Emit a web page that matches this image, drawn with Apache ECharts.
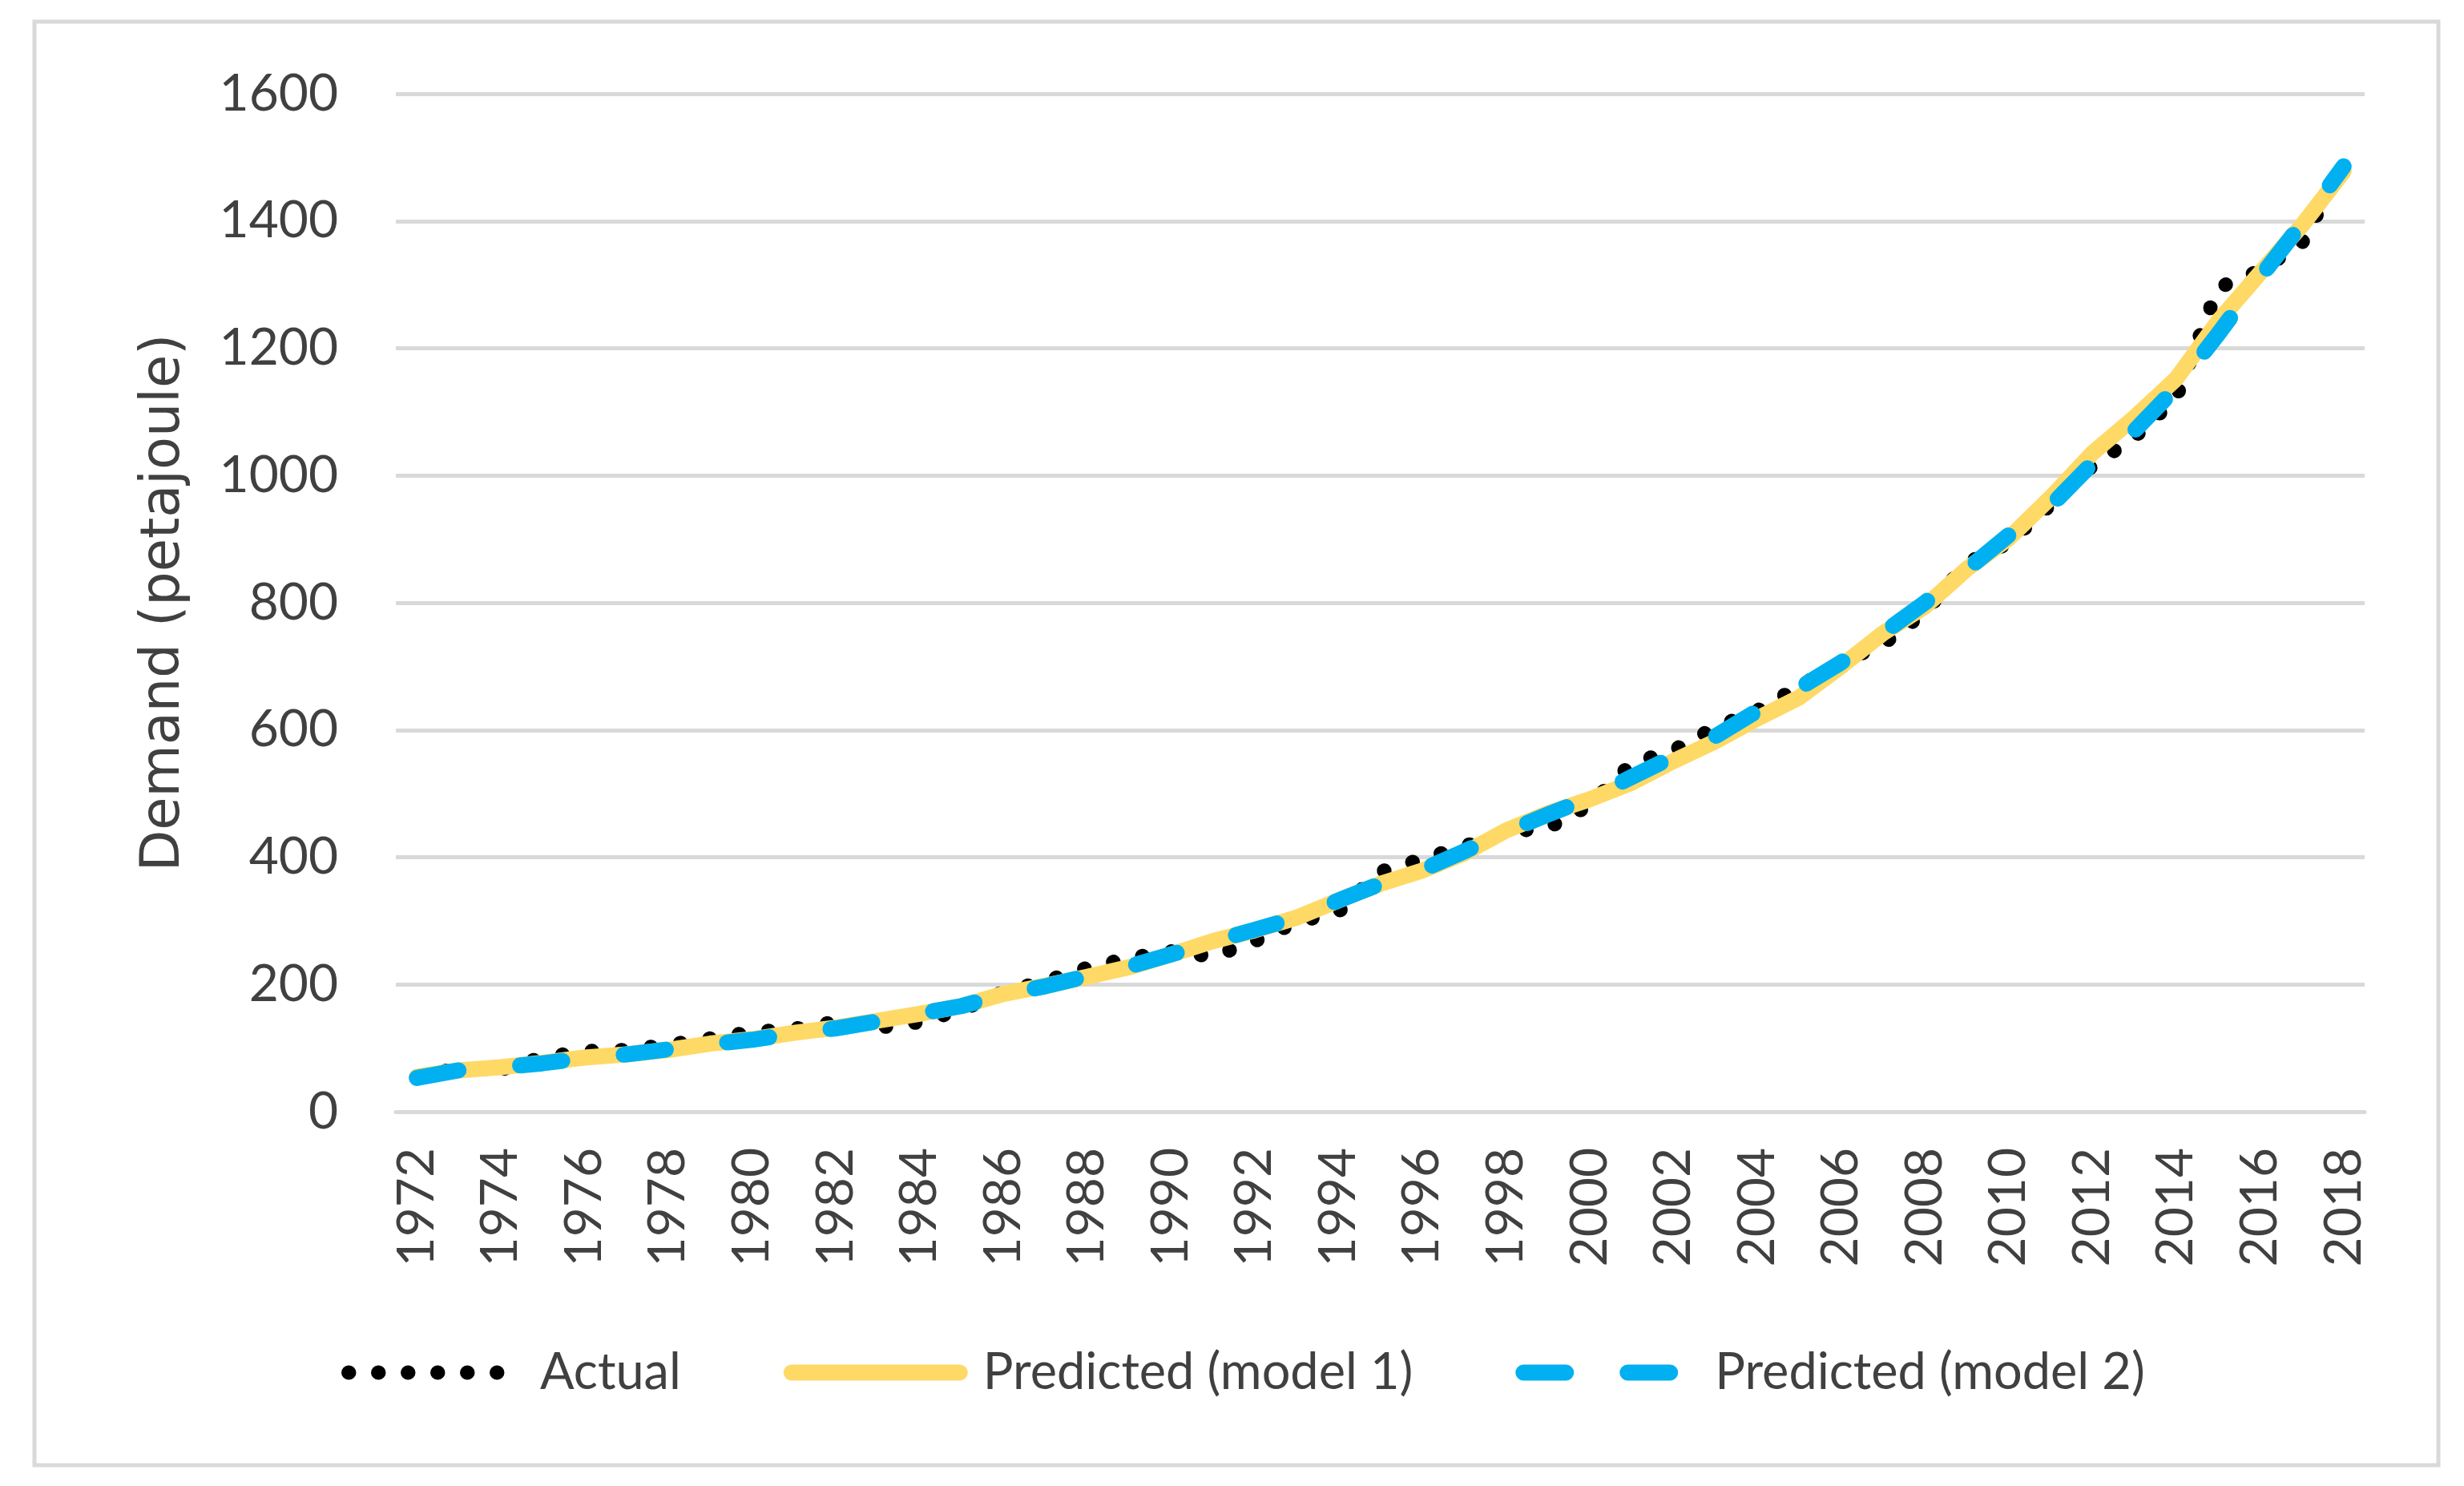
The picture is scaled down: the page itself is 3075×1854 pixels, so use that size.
<!DOCTYPE html>
<html>
<head>
<meta charset="utf-8">
<script src="https://cdn.jsdelivr.net/npm/echarts@6/dist/echarts.min.js"></script>
<style>
html,body{margin:0;padding:0;background:#fff;}
#chart{width:3075px;height:1854px;}
</style>
</head>
<body>
<div id="chart"></div>
<script>
var years = [];
for (var y = 1972; y <= 2018; y++) years.push(String(y));

var actual = [55, 68, 66, 85, 95, 97, 105, 115, 125, 130,
  141, 132, 141, 160, 188, 205, 226, 241, 252, 244,
  268, 298, 314, 377, 397, 417, 440, 446, 482, 547,
  568, 604, 630, 668, 706, 735, 785, 862, 894, 954,
  1015, 1060, 1122, 1295, 1322, 1365, 1490];

var model1 = [55, 65, 70, 77, 85, 90, 97, 107, 114, 124,
  132, 143, 154, 166, 185, 198, 212, 227, 247, 268,
  285, 305, 332, 358, 379, 406, 442, 469, 491, 517,
  551, 582, 618, 651, 700, 752, 794, 853, 901, 965,
  1035, 1091, 1152, 1242, 1318, 1393, 1478];

var model2 = [53, 65, 70, 76, 84, 90, 98, 106, 113, 123,
  131, 142, 154, 166, 184, 197, 213, 228, 247, 267,
  286, 305, 332, 358, 380, 409, 440, 467, 493, 526,
  558, 590, 630, 666, 706, 752, 800, 852, 906, 952,
  1019, 1070, 1138, 1222, 1311, 1396, 1486];

var seriesNames = ['Actual', 'Predicted (model 1)', 'Predicted (model 2)'];

var textColor = '#404040';
var gridColor = '#D9D9D9';

var chart = echarts.init(document.getElementById('chart'), null, {renderer: 'canvas'});
chart.setOption({
  animation: false,
  backgroundColor: '#fff',
  graphic: [{
    type: 'rect',
    shape: {x: 43, y: 27, width: 3000, height: 1801},
    style: {fill: 'none', stroke: gridColor, lineWidth: 5},
    silent: true
  }],
  grid: {left: 494, right: 124, top: 117, bottom: 467, containLabel: false},
  legend: {
    left: 421,
    top: 1676,
    itemWidth: 210,
    itemHeight: 20,
    itemGap: 128,
    itemStyle: {opacity: 0},
    lineStyle: {width: 'inherit', cap: 'round'},
    textStyle: {fontFamily: 'Lato', fontSize: 63, color: textColor, padding: [0, 0, 0, 24]},
    data: seriesNames
  },
  xAxis: {
    type: 'category',
    data: years,
    boundaryGap: true,
    axisLine: {show: true, lineStyle: {color: gridColor, width: 5}},
    axisTick: {show: false},
    axisLabel: {
      interval: 1,
      rotate: 90,
      margin: 45,
      fontFamily: 'Lato',
      fontSize: 64,
      color: textColor
    },
    splitLine: {show: false}
  },
  yAxis: {
    type: 'value',
    min: 0,
    max: 1600,
    interval: 200,
    name: 'Demand (petajoule)',
    nameLocation: 'middle',
    nameGap: 255,
    nameRotate: 90,
    nameTextStyle: {fontFamily: 'DejaVu Sans', fontSize: 67, color: textColor},
    axisLine: {show: false},
    axisTick: {show: false},
    axisLabel: {
      margin: 72, fontFamily: 'Lato', fontSize: 64, color: textColor,
      formatter: function (v) { return String(v); }
    },
    splitLine: {show: true, lineStyle: {color: gridColor, width: 5}}
  },
  series: [
    {
      name: seriesNames[0],
      type: 'line',
      data: actual,
      symbol: 'none',
      smooth: false,
      itemStyle: {color: '#000000'},
      lineStyle: {color: '#000000', width: 18, type: [0.5, 36.5], cap: 'round', join: 'round'}
    },
    {
      name: seriesNames[1],
      type: 'line',
      data: model1,
      symbol: 'none',
      smooth: false,
      itemStyle: {color: '#FFD966'},
      lineStyle: {color: '#FFD966', width: 20, cap: 'round', join: 'round'}
    },
    {
      name: seriesNames[2],
      type: 'line',
      data: model2,
      symbol: 'none',
      smooth: false,
      itemStyle: {color: '#00B0F0'},
      lineStyle: {color: '#00B0F0', width: 20, type: [53, 77], cap: 'round', join: 'round'}
    }
  ]
});
</script>
</body>
</html>
